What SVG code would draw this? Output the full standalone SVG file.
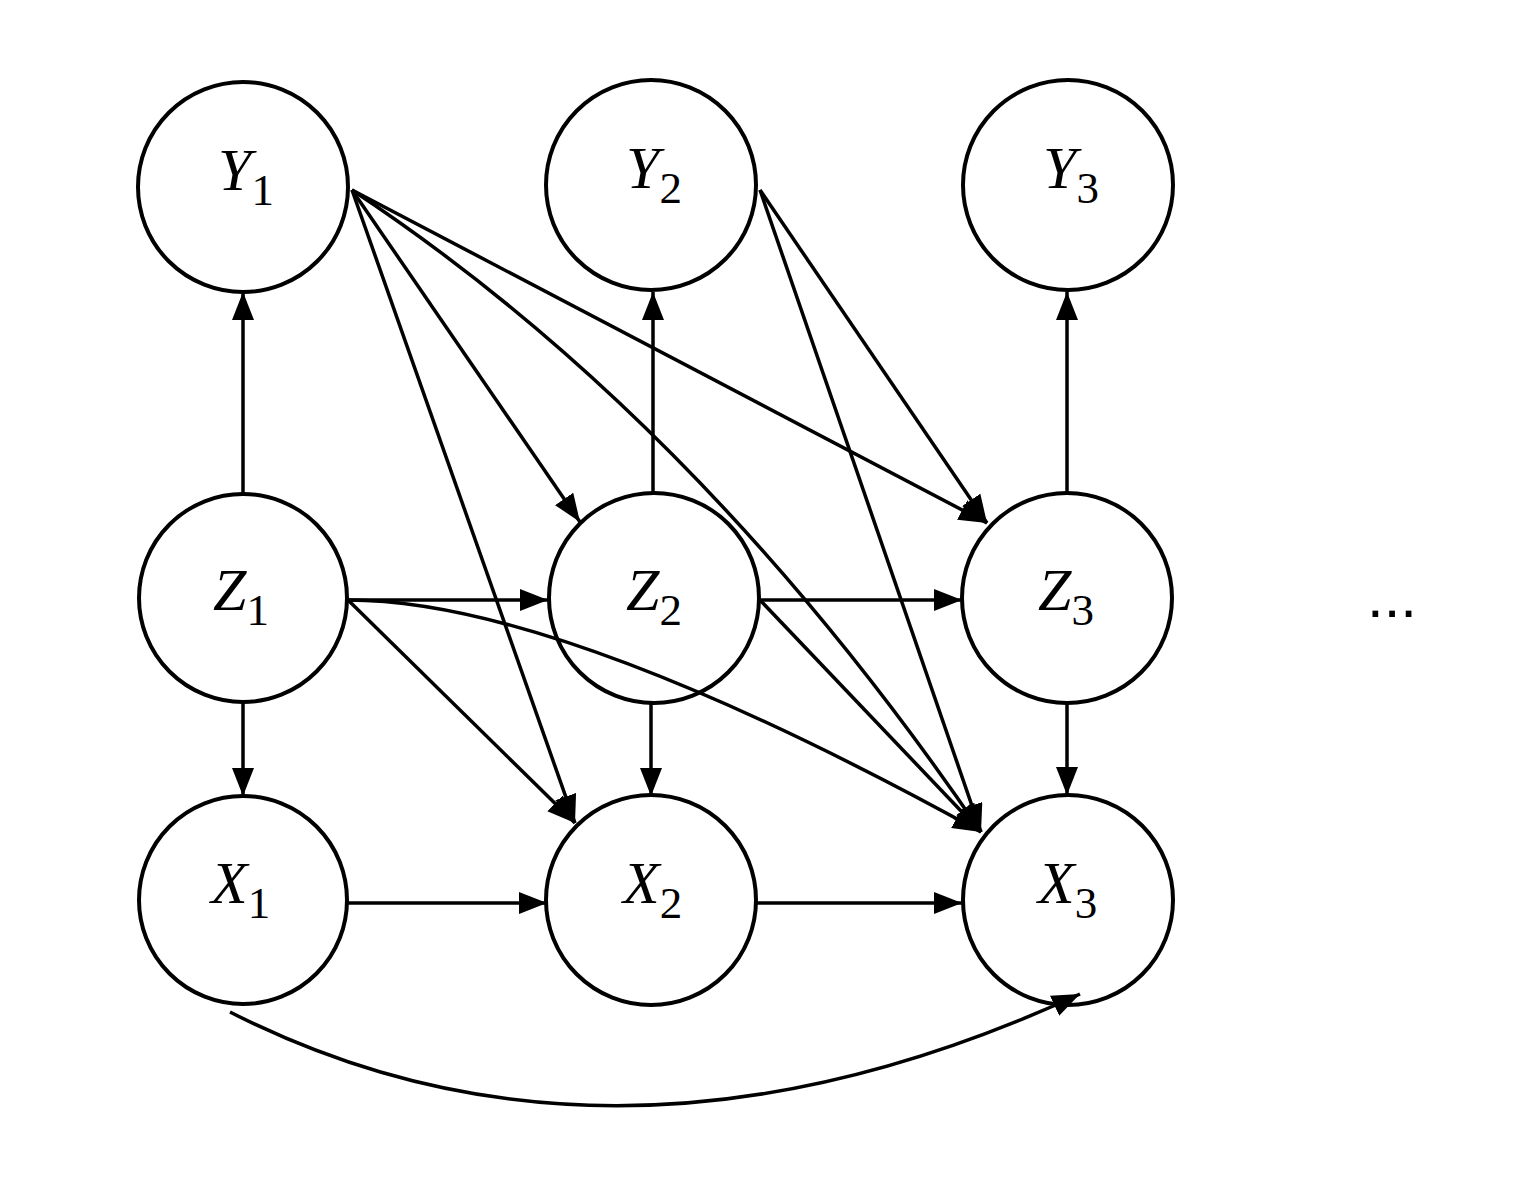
<svg xmlns="http://www.w3.org/2000/svg" width="1526" height="1196" viewBox="0 0 1526 1196">
<style>
.node{fill:#fff;stroke:#000;stroke-width:4}
.lbl{font-family:"Liberation Serif",serif;font-style:italic;font-size:60px;fill:#000}
.sub{font-style:normal;font-size:45px}
.edge{fill:none;stroke:#000;stroke-width:3.5}
</style>
<defs>
<marker id="ah" markerUnits="userSpaceOnUse" markerWidth="30" markerHeight="24" refX="28" refY="11" orient="auto">
<path d="M0,0 L28,11 L0,22 z" fill="#000"/>
</marker>
</defs>
<rect width="1526" height="1196" fill="#fff"/>
<g id="nodes">
<g id="Y1"><circle class="node" cx="243" cy="187" r="105"/><text class="lbl" x="218" y="190">Y<tspan class="sub" dy="15">1</tspan></text></g>
<g id="Y2"><circle class="node" cx="651" cy="185" r="105"/><text class="lbl" x="626" y="188">Y<tspan class="sub" dy="15">2</tspan></text></g>
<g id="Y3"><circle class="node" cx="1068" cy="185" r="105"/><text class="lbl" x="1043" y="188">Y<tspan class="sub" dy="15">3</tspan></text></g>
<g id="Z1"><circle class="node" cx="243" cy="598" r="104"/><text class="lbl" x="213" y="610">Z<tspan class="sub" dy="15">1</tspan></text></g>
<g id="Z2"><circle class="node" cx="654" cy="598" r="105"/><text class="lbl" x="626" y="610">Z<tspan class="sub" dy="15">2</tspan></text></g>
<g id="Z3"><circle class="node" cx="1067" cy="598" r="105"/><text class="lbl" x="1038" y="610">Z<tspan class="sub" dy="15">3</tspan></text></g>
<g id="X1"><circle class="node" cx="243" cy="900" r="104"/><text class="lbl" x="211" y="903">X<tspan class="sub" dy="15">1</tspan></text></g>
<g id="X2"><circle class="node" cx="651" cy="900" r="105"/><text class="lbl" x="623" y="903">X<tspan class="sub" dy="15">2</tspan></text></g>
<g id="X3"><circle class="node" cx="1068" cy="900" r="105"/><text class="lbl" x="1038" y="903">X<tspan class="sub" dy="15">3</tspan></text></g>
<g id="ellipsis"><text x="1392" y="617" text-anchor="middle" font-family="Liberation Sans, sans-serif" font-size="60">...</text></g>
</g>
<g id="connectors">
<line class="edge" x1="243" y1="494" x2="243" y2="292" marker-end="url(#ah)"/>
<line class="edge" x1="243" y1="702" x2="243" y2="796" marker-end="url(#ah)"/>
<line class="edge" x1="653" y1="494" x2="653" y2="292" marker-end="url(#ah)"/>
<line class="edge" x1="651" y1="703" x2="651" y2="796" marker-end="url(#ah)"/>
<line class="edge" x1="1067" y1="493" x2="1067" y2="292" marker-end="url(#ah)"/>
<line class="edge" x1="1067" y1="703" x2="1067" y2="795" marker-end="url(#ah)"/>
<line class="edge" x1="346" y1="600" x2="548" y2="600" marker-end="url(#ah)"/>
<line class="edge" x1="759" y1="600" x2="962" y2="600" marker-end="url(#ah)"/>
<line class="edge" x1="346" y1="903" x2="547" y2="903" marker-end="url(#ah)"/>
<line class="edge" x1="756" y1="903" x2="962" y2="903" marker-end="url(#ah)"/>
<line class="edge" x1="352" y1="190" x2="580" y2="522" marker-end="url(#ah)"/>
<line class="edge" x1="352" y1="190" x2="575" y2="823" marker-end="url(#ah)"/>
<line class="edge" x1="352" y1="190" x2="987" y2="523" marker-end="url(#ah)"/>
<path class="edge" d="M352,190 Q700,420 981,832" marker-end="url(#ah)"/>
<line class="edge" x1="760" y1="190" x2="987" y2="523" marker-end="url(#ah)"/>
<line class="edge" x1="760" y1="190" x2="981" y2="832" marker-end="url(#ah)"/>
<line class="edge" x1="348" y1="600" x2="575" y2="823" marker-end="url(#ah)"/>
<path class="edge" d="M348,600 Q560,600 981,832" marker-end="url(#ah)"/>
<line class="edge" x1="760" y1="600" x2="981" y2="832" marker-end="url(#ah)"/>
<path class="edge" d="M230,1012 Q615,1208 1080,994" marker-end="url(#ah)"/>
</g>
</svg>
